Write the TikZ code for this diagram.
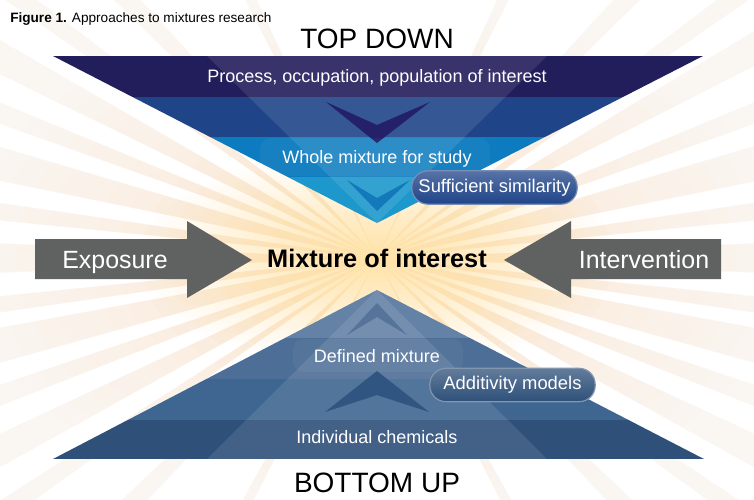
\documentclass[tikz,border=0pt]{standalone}
\usepackage{fontspec}
\setmainfont{Liberation Sans}
\usetikzlibrary{positioning,fadings,calc}

\definecolor{topA}{HTML}{221E5B}
\definecolor{topB}{HTML}{1F4488}
\definecolor{topC}{HTML}{0C7BBF}
\definecolor{topD}{HTML}{1C98CC}
\definecolor{botA}{HTML}{6482A5}
\definecolor{botB}{HTML}{4D6E96}
\definecolor{botC}{HTML}{3F6690}
\definecolor{botD}{HTML}{2E5079}
\definecolor{chevA}{HTML}{24206A}
\definecolor{chevB}{HTML}{1479BA}
\definecolor{chevC}{HTML}{56749A}
\definecolor{chevD}{HTML}{2F5580}
\definecolor{arrowgray}{HTML}{606161}
\definecolor{raycol}{HTML}{F7C48C}
\definecolor{glowcol}{HTML}{FFE2A6}

\tikzfading[name=glowfade, inner color=transparent!0, outer color=transparent!100]

\begin{document}
\begin{tikzpicture}[x=0.75pt, y=-0.75pt,
  sheen/.style={fill=white, fill opacity=0.1},
  glowbox/.style={fill=white, fill opacity=0.045, rounded corners=8pt},
  lbl/.style={text=white, font=\fontsize{13.5}{16}\selectfont, anchor=base, inner sep=0pt},
  head/.style={font=\fontsize{21}{24}\selectfont, anchor=base, inner sep=0pt},
  side/.style={text=white, font=\fontsize{18.7}{22}\selectfont, anchor=base, inner sep=0pt},
  pill/.style={draw=#1!60!white, line width=0.9pt, rounded corners=12pt,
    top color=#1!75!white, bottom color=#1, text=white,
    font=\fontsize{13.8}{16}\selectfont, minimum width=124pt,
    minimum height=25pt, inner sep=0pt},
  bigarrow/.style={fill=arrowgray}
]
\useasboundingbox (0,0) rectangle (754,500);
\fill[white] (0,0) rectangle (754,500);

% sunburst behind everything
\coordinate (hub) at (377,258);
\foreach \a/\w in {0/2.2, 7/1.2, 13/2.5, 20/1.4, 27/2, 35/1.2, 45/1.5,
  62/1, 118/1, 135/1.5, 146/1.2, 153/2, 160/1.4, 167/2.5, 173/1.2, 180/2.2,
  187/1.3, 194/2.4, 201/1.4, 208/2, 216/1.2, 226/1.5, 244/1, 296/1,
  314/1.5, 324/1.2, 331/2, 339/1.4, 346/2.5, 353/1.3}
  \fill[raycol, fill opacity=0.5] (hub) -- +(\a-\w:620) -- +(\a+\w:620) -- cycle;
% wash the rays out towards the edges
\foreach \r in {110,135,...,460}
  \fill[white, fill opacity=0.12, even odd rule]
    (-10,-10) rectangle (764,510)
    (hub) ellipse [x radius=\r, y radius=0.62*\r];
\fill[glowcol, path fading=glowfade] (hub) ellipse (240 and 110);

% top down funnel
\begin{scope}
  \clip (53,56) -- (703,56) -- (377,223) -- cycle;
  \fill[topA] (0,56) rectangle (754,97);
  \fill[topB] (0,97) rectangle (754,137);
  \fill[topC] (0,137) rectangle (754,177);
  \fill[topD] (0,177) rectangle (754,230);
  \fill[sheen] (207,56) -- (547,56) -- (377,223) -- cycle;
\end{scope}
\fill[chevA] (326,102) -- (377,125) -- (430,102) -- (377,143) -- cycle;
\fill[chevB] (347,180) -- (377,198) -- (410,180) -- (377,211) -- cycle;

% bottom up pyramid
\begin{scope}
  \clip (53,459) -- (704,459) -- (377,290) -- cycle;
  \fill[botA] (0,285) rectangle (754,338);
  \fill[botB] (0,338) rectangle (754,379);
  \fill[botC] (0,379) rectangle (754,420);
  \fill[botD] (0,420) rectangle (754,459);
  \fill[sheen] (207,459) -- (547,459) -- (377,290) -- cycle;
\end{scope}
\fill[chevC] (347,335) -- (377,317) -- (407,335) -- (377,303) -- cycle;
\fill[chevD] (325,412) -- (377,395) -- (429,412) -- (377,371) -- cycle;

% soft boxes behind labels
\fill[glowbox] (260,138) rectangle (490,176);
\fill[glowbox] (293,339) rectangle (463,372);

% side arrows
\fill[bigarrow] (35,239) -- (187,239) -- (187,221) -- (252,260)
  -- (187,298) -- (187,279) -- (35,279) -- cycle;
\fill[bigarrow] (721,239) -- (571,239) -- (571,221) -- (504,260)
  -- (571,298) -- (571,279) -- (721,279) -- cycle;

% texts
\node[anchor=base west, inner sep=0pt, font=\fontsize{10.2}{12}\selectfont]
  (caption) at (10,22) {\textbf{Figure 1.} Approaches to mixtures research};
\node[head] (topdown) at (377,48) {TOP DOWN};
\node[head] (bottomup) at (377,492) {BOTTOM UP};
\node[lbl] (process) at (377,82) {Process, occupation, population of interest};
\node[lbl] (whole) at (377,163) {Whole mixture for study};
\node[lbl] (defined) at (377,362) {Defined mixture};
\node[lbl] (individual) at (377,443) {Individual chemicals};
\node[pill=topB] (similar) at (494.5,187.5) {Sufficient similarity};
\node[pill=botD] (additive) at (512.5,385) {Additivity models};
\node[anchor=base, inner sep=0pt, font=\fontsize{19}{22}\selectfont\bfseries]
  (mixture) at (377,267) {Mixture of interest};
\node[side] (exposure) at (115,268) {Exposure};
\node[side] (intervention) at (644,268) {Intervention};
\end{tikzpicture}
\end{document}
